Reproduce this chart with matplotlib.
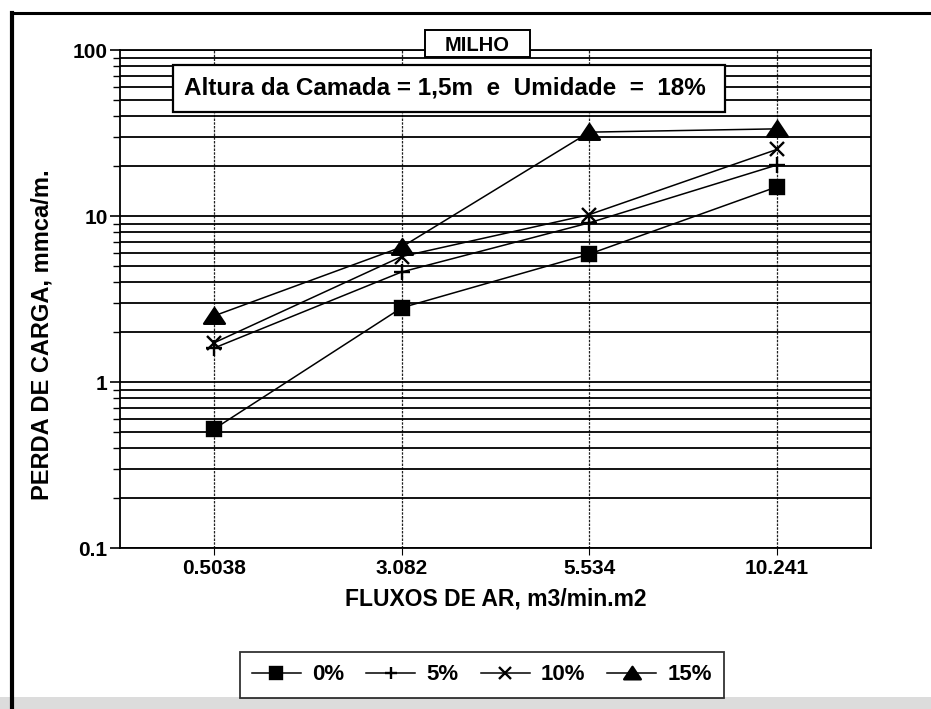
import matplotlib
matplotlib.use('Agg')
import matplotlib.pyplot as plt
import matplotlib.patches as mpatches
from matplotlib.lines import Line2D
from matplotlib.path import Path
from matplotlib.ticker import LogLocator, NullFormatter, FixedFormatter, FixedLocator

plt.rcParams['font.family'] = ['Liberation Sans', 'DejaVu Sans']
plt.rcParams['font.weight'] = 'bold'

# -- data --
fluxos = ['0.5038', '3.082', '5.534', '10.241']
perda_0 = [0.52, 2.8, 5.9, 15.0]
perda_5 = [1.6, 4.6, 9.1, 20.3]
perda_10 = [1.72, 5.7, 10.2, 25.2]
perda_15 = [2.5, 6.5, 32.0, 33.5]
series_labels = ['0%', '5%', '10%', '15%']

W, H = 931, 709
fig = plt.figure(figsize=(W / 100, H / 100), dpi=100)
fig.patch.set_facecolor('white')

def fx(px):
    return px / W

def fy(py):
    return 1 - py / H

ax = fig.add_axes([fx(120), fy(548), fx(871) - fx(120), fy(50) - fy(548)])
x = list(range(len(fluxos)))

# wide, flat triangle like the original plotter symbol
tri = Path([(-1, -0.7), (1, -0.7), (0, 0.8), (-1, -0.7)],
           [Path.MOVETO, Path.LINETO, Path.LINETO, Path.CLOSEPOLY])

styles = [
    (perda_0, 's', 10, series_labels[0]),
    (perda_5, '+', 11, series_labels[1]),
    (perda_10, 'x', 10, series_labels[2]),
    (perda_15, tri, 15, series_labels[3]),
]
handles = []
for vals, mk, ms, lab in styles:
    h, = ax.plot(x, vals, color='black', lw=1.1, marker=mk, ms=ms,
                 mew=1.7, mfc='black', mec='black', label=lab, zorder=3)
    handles.append(h)

ax.set_yscale('log')
ax.set_ylim(0.1, 100)
ax.set_xlim(-0.5, len(fluxos) - 0.5)
ax.set_xticks(x)
ax.set_xticklabels(fluxos, fontsize=15, fontweight='bold')
ax.yaxis.set_major_locator(FixedLocator([0.1, 1, 10, 100]))
ax.yaxis.set_major_formatter(FixedFormatter(['0.1', '1', '10', '100']))
ax.yaxis.set_minor_locator(LogLocator(base=10, subs=range(2, 10)))
ax.yaxis.set_minor_formatter(NullFormatter())
for t in ax.get_yticklabels():
    t.set_fontsize(15)
    t.set_fontweight('bold')

ax.grid(True, which='both', axis='y', color='black', lw=1.3)
ax.grid(True, which='major', axis='x', color='#222222', lw=0.9, ls=(0, (2, 1)))
ax.tick_params(axis='y', which='major', direction='out', length=7, width=1.2, pad=2)
ax.tick_params(axis='y', which='minor', direction='out', length=5, width=1.0)
ax.tick_params(axis='x', direction='out', length=5, width=0.8, pad=3)
for s in ax.spines.values():
    s.set_color('black')
    s.set_linewidth(1.3)

ax.set_xlabel('FLUXOS DE AR, m3/min.m2', fontsize=16.5, fontweight='bold', labelpad=7)
fig.text(fx(42), fy(335), 'PERDA DE CARGA, mmca/m.', rotation=90, ha='center',
         va='center', fontsize=17, fontweight='bold')

# title boxes
milho = mpatches.Rectangle((fx(425), fy(57)), fx(530) - fx(425), fy(30) - fy(57),
                           transform=fig.transFigure, facecolor='white',
                           edgecolor='black', lw=1.4, zorder=5)
fig.patches.append(milho)
fig.text(fx(477), fy(43.5), 'MILHO', ha='center', va='center_baseline', fontsize=14.5,
         fontweight='bold', zorder=6)

info = mpatches.Rectangle((fx(173), fy(112)), fx(725) - fx(173), fy(65) - fy(112),
                          transform=fig.transFigure, facecolor='white',
                          edgecolor='black', lw=1.6, zorder=5)
fig.patches.append(info)
fig.text(fx(445), fy(88), 'Altura da Camada = 1,5m  e  Umidade  =  18%',
         ha='center', va='center', fontsize=17.5, fontweight='bold', zorder=6)

leg = fig.legend(handles=handles, loc='center', bbox_to_anchor=(fx(482), fy(675)),
                 ncol=4, frameon=True, fancybox=False, edgecolor='black',
                 handlelength=2.2, columnspacing=1.0, handletextpad=0.5,
                 prop={'size': 16, 'weight': 'bold'}, borderpad=0.55,
                 borderaxespad=0, markerscale=0.8)
leg.get_frame().set_linewidth(1.3)

# scanned page frame
fig.add_artist(Line2D([fx(12), 1.0], [fy(13), fy(13)], transform=fig.transFigure,
                      color='black', lw=2.2))
fig.add_artist(Line2D([fx(12), fx(12)], [fy(13), 0.0], transform=fig.transFigure,
                      color='black', lw=3.0))
fig.patches.append(mpatches.Rectangle((0, 0), 1, fy(697), transform=fig.transFigure,
                                      facecolor='#dcdcdc', edgecolor='none', zorder=0))

fig.savefig('out.png', dpi=100, facecolor='white')
